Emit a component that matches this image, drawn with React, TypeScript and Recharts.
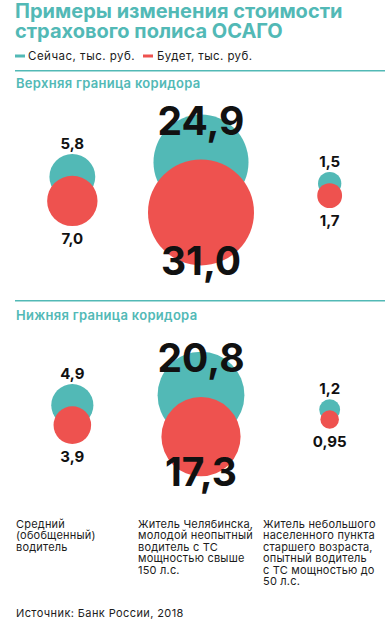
import React from 'react';
import { ScatterChart, Scatter, XAxis, YAxis, ZAxis } from 'recharts';

const TEAL = '#52B9B6';
const RED = '#EE524F';
const TEXT = '#1c1c1c';

const titleLines = ['Примеры изменения стоимости', 'страхового полиса ОСАГО'];
const legendNames = ['Сейчас, тыс. руб.', 'Будет, тыс. руб.'];
const panelTitles = ['Верхняя граница коридора', 'Нижняя граница коридора'];
const categoryLines = [
  ['Средний', '(обобщенный)', 'водитель'],
  ['Житель Челябинска,', 'молодой неопытный', 'водитель с ТС', 'мощностью свыше', '150 л.с.'],
  ['Житель небольшого', 'населенного пункта', 'старшего возраста,', 'опытный водитель', 'с ТС мощностью до', '50 л.с.'],
];
const source = 'Источник: Банк России, 2018';

const upperNow = [5.8, 24.9, 1.5];
const upperFuture = [7.0, 31.0, 1.7];
const lowerNow = [4.9, 20.8, 1.2];
const lowerFuture = [3.9, 17.3, 0.95];

const Z_MAX = 31;
const R_MAX = 53;
const radius = (v: number) => Math.sqrt(v / Z_MAX) * R_MAX;

const fmt = (v: number) => {
  const s = Math.abs(v * 10 - Math.round(v * 10)) < 1e-9 ? v.toFixed(1) : v.toFixed(2);
  return s.replace('.', ',');
};

type Pt = { x: number; y: number; z: number; pos: 'top' | 'bottom' };

function buildPanel(now: number[], future: number[]) {
  const a: Pt[] = [];
  const b: Pt[] = [];
  now.forEach((v, i) => {
    const rt = radius(v);
    const rr = radius(future[i]);
    const E = 1.5 * (rt + rr);
    a.push({ x: i, y: -E / 2 + rt, z: v, pos: 'top' });
    b.push({ x: i, y: E / 2 - rr, z: future[i], pos: 'bottom' });
  });
  return { a, b };
}

const Bubble = (props: any) => {
  const { cx, cy, width, payload, fill } = props;
  const r = width / 2;
  const v: number = payload.z;
  const big = v >= 10;
  const fs = big ? 39 : 15;
  let ty: number;
  if (payload.pos === 'top') ty = big ? cy - r + 20 : cy - r - 5;
  else ty = big ? cy + r + 10 : cy + r + 18;
  return (
    <g>
      <circle cx={cx} cy={cy} r={r} fill={fill} />
      <text
        x={cx}
        y={ty}
        textAnchor="middle"
        fontFamily="Inter, sans-serif"
        fontWeight={700}
        fontSize={fs}
        fill="#111"
      >
        {fmt(v)}
      </text>
    </g>
  );
};

const H = 210;

function Panel({ now, future, center }: { now: number[]; future: number[]; center: number }) {
  const { a, b } = buildPanel(now, future);
  return (
    <div style={{ position: 'absolute', left: 0, top: center - H / 2, width: 394, height: H }}>
      <ScatterChart width={394} height={H} margin={{ top: 0, right: 0, bottom: 0, left: 8 }}>
        <XAxis type="number" dataKey="x" domain={[-0.5, 2.5]} hide />
        <YAxis type="number" dataKey="y" domain={[-H / 2, H / 2]} reversed hide />
        <ZAxis type="number" dataKey="z" domain={[0, Z_MAX]} range={[0, Math.PI * R_MAX * R_MAX]} />
        <Scatter data={a} fill={TEAL} shape={<Bubble />} isAnimationActive={false} />
        <Scatter data={b} fill={RED} shape={<Bubble />} isAnimationActive={false} />
      </ScatterChart>
    </div>
  );
}

export default function App() {
  const colX = [16, 138, 263];
  return (
    <div
      style={{
        position: 'absolute',
        left: 0,
        top: 0,
        width: 391,
        height: 623,
        overflow: 'hidden',
        background: '#fff',
      }}
    >
      <svg width={391} height={623} style={{ position: 'absolute', left: 0, top: 0 }} fontFamily="Inter, sans-serif">
        {titleLines.map((t, i) => (
          <text key={t} x={15} y={18 + i * 20} fontSize={20} fontWeight={700} fill={TEAL}>
            {t}
          </text>
        ))}
        <rect x={15} y={54.5} width={10} height={3} fill={TEAL} />
        <text x={28} y={60} fontSize={11.5} letterSpacing={0.5} fill={TEXT}>{legendNames[0]}</text>
        <rect x={143} y={54.5} width={10} height={3} fill={RED} />
        <text x={157} y={60} fontSize={11.5} letterSpacing={0.4} fill={TEXT}>{legendNames[1]}</text>

        <rect x={15} y={70} width={370} height={1.5} fill={TEAL} />
        <text x={16} y={88} fontSize={13} letterSpacing={0.3} fontWeight={600} fill={TEAL}>{panelTitles[0]}</text>

        <rect x={15} y={300} width={370} height={1.5} fill={TEAL} />
        <text x={16} y={320} fontSize={13} letterSpacing={0.3} fontWeight={600} fill={TEAL}>{panelTitles[1]}</text>

        {categoryLines.map((lines, ci) =>
          lines.map((l, li) => (
            <text key={ci + '-' + li} x={colX[ci]} y={528 + li * 11.4} fontSize={11} letterSpacing={0.2} fill={TEXT}>
              {l}
            </text>
          ))
        )}
        <text x={16} y={617} fontSize={11} letterSpacing={0.4} fill={TEXT}>{source}</text>
      </svg>
      <Panel now={upperNow} future={upperFuture} center={190} />
      <Panel now={lowerNow} future={lowerFuture} center={414} />
    </div>
  );
}
